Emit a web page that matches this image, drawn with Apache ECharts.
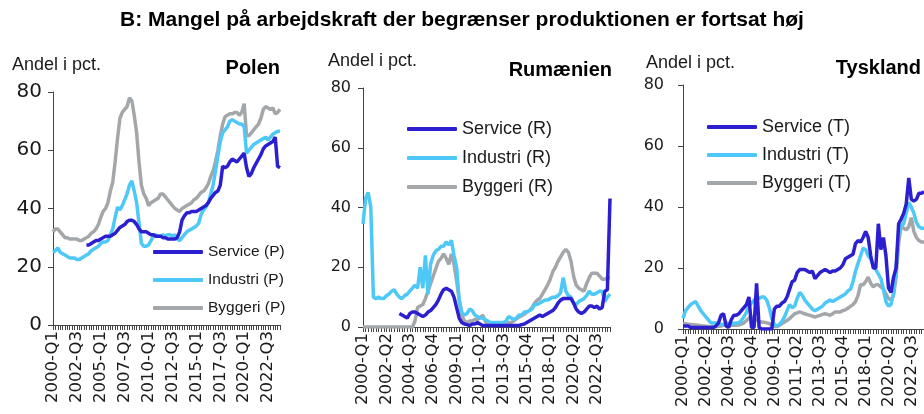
<!DOCTYPE html>
<html>
<head>
<meta charset="utf-8">
<script src="https://cdn.jsdelivr.net/npm/echarts@6/dist/echarts.min.js"></script>
<style>
  html, body { margin: 0; padding: 0; background: #fff; }
  #chart { width: 924px; height: 414px; }
</style>
</head>
<body>
<div id="chart"></div>
<script>
// kvartaler 2000-Q1 .. 2023-Q4
var quarters = [];
for (var y = 2000; y <= 2023; y++) {
    for (var q = 1; q <= 4; q++) {
        quarters.push(y + '-Q' + q);
    }
}

var yTicks = [0, 20, 40, 60, 80];

// Polen
var polenService = [null,null,null,null,null,null,null,null,null,null,
    null,null,null,null,27.5,27.5,28,28.5,29,29,
    29.5,30,30.5,30.5,30.5,31,31.5,32.5,33.5,34,
    34.5,35.5,36,36,35.5,34.5,33,32,32,32,
    31.5,31,31,30.5,30.5,30.5,30,30,29.5,29.5,
    29.5,29.5,30,32,36,37.5,38.5,38.5,39,39,
    39,39.5,40,40.5,41,42,43.5,44.5,45.5,46,
    48,54.5,54,54.5,56,57,56.5,56,57,58,
    59,54,51,52,54,55.5,57,58.5,60.5,61.5,
    62,62.5,63,64.5,54.5,54];
var polenIndustri = [25,25.5,26.5,25,24.5,24,23.5,23,23,23,
    22.5,22.5,23,23.5,24,24.5,25.5,26,26.5,27,
    28,28.5,28.5,29,31,33,37,40.5,39.5,41,
    43,45,48,49.5,46,42,35,28,27,27,
    27.5,29,30.5,31,30.5,30.5,31,30.5,31,31,
    30.5,31,29.5,29,30,31,32,32.5,33,33.5,
    34,35,38,39.5,40.5,42,45,48,53,58,
    63,66,67,68,70,70.5,70,69.5,69,69,
    68,59,60,61,62,62.5,63,63.5,64,64.5,
    63.5,64.5,65.5,66,66.5,66.5];
var polenByggeri = [32,33,33,32,31,30,30,29.5,29.5,29.5,
    29.5,29,29,29.5,30,30.5,31.5,32,33,34.5,
    37,39,40,42,46,49,56,64,71,73,
    74,75,78,77,72,66,56,48,45,43.5,
    41,42,42.5,43,43.5,45,45,44,43,42,
    41,40,39.5,39,40,40.5,41,41.5,42,43,
    43.5,44.5,45.5,46,47,48.5,51,53,56,60,
    65,69,71.5,72,72.5,72.5,73,73,72,73,
    76,65,65,66,67,68,69,71,74,75,
    74.5,74,74.5,72.5,73,74];

// Rumænien
var rumService = [null,null,null,null,null,null,null,null,null,null,
    null,null,null,null,4.5,4,3.5,3,4.5,5,
    5,4.5,4,3.5,4,5,5.5,6.5,7.5,9,
    11,12.5,13,12.5,12,10,6.5,3,1.5,1,
    0.8,0.5,1,1,1.5,1,0.5,0.5,0.5,0.5,
    0.5,0.5,0.5,0.5,0.5,0.5,0.5,0.5,0.5,0.5,
    0.5,0.8,1,1.5,2,2.5,3,3.5,4,3.5,
    4,4.5,5,5.5,6.5,8,9,9.5,9.5,9.5,
    9.5,8,6,5,4.5,5,6,7,7,6.5,
    7,6,6.5,12,12.5,43];
var rumIndustri = [34.5,43,45,40,10,9.5,10,9.5,9.5,10.5,
    11,12,12.5,11,10,9.5,10.5,11,12,13,
    14,13,20,13,24,11,21,24,25.5,26,
    27,27,28.5,27.5,29,24,20,9,5,4,
    4.5,6,5.5,4,3.5,3,3,2.5,2,1.5,
    1.5,1.5,1.5,1.5,1.5,2,3.5,3,2.5,3,
    4,4,5,5,5.5,6,7.5,7.5,8,8.5,
    9,9,9.5,10,10,10.5,11.5,16.5,12,10.5,
    10,8,7.5,8.5,9,9.5,10.5,12,11,11,
    11.5,12,12,8.5,10,11];
var rumByggeri = [0,0,0,0,0,0,0,0,0,0,
    0,0,0,0,0,0,0,0,0,0,
    2,6.5,7,7.5,9.5,12,14.5,17,19.5,22,
    23,24.5,23,21,24.5,21,15.5,9,4,2,
    1.5,2,2,2.5,2.5,3,4,2,1,0.5,
    0.5,1,1,1,1,1.3,1.5,1.5,2,2.8,
    3.3,3.8,4.2,5,5.5,6.5,8,9,9.5,11,
    12.5,14,16,18.5,20,22,23.5,25,26,25,
    22,17,14,13,12.5,12,14.5,16.5,18,18,
    18,17,16,16,16.5,16.5];

// Tyskland
var tyService = [1,1,1,0.5,0.5,0.5,0.5,0.5,0.5,0.5,
    0.5,0.5,0.5,1,2,4.5,5,1,0.5,3,
    4.5,4.5,5,6,7,8,10.5,0.5,0.5,15,
    0.5,0,0,0,0,0,6.5,7.5,7.5,8.5,
    9,10.5,13,15.5,16,18.5,19.5,19.5,19.5,19,
    18.5,19,16.5,17.5,18.5,19,19.5,19,18.5,19,
    19,19.5,20,21,23,23.5,24,24.5,28,29,
    28.5,30,32,30,24,20,20,34.5,26,30,
    24,13.5,12,17,20,34.5,36,38,41,49.5,
    42.5,42,42.5,44.5,44.5,45];
var tyIndustri = [3.5,6,7,8,8.5,9,7.5,6,5,4,
    3,2,2,2,1.5,1.5,1.5,2,1.8,1.5,
    1.8,2,2,2.8,4,5.5,7.5,8.5,9.5,10,
    10,10.5,10.5,9.5,7,3.5,1.5,1,1.5,2.5,
    4,6,8,7,7.5,10,12,11,9.5,8.5,
    7.5,6.5,6,6.5,7,7.5,8.5,9,9.5,9,
    9.5,10,10.5,11,11.5,12.5,13,15.5,19,21.5,
    24,26.5,26,24,23,21,19.5,18,16.5,13,
    9,7.5,8,12,20,31,34,34.5,38,41.5,
    40,38,35,33.5,33,33];
var tyByggeri = [1.8,1.7,1.6,1.5,1.4,1.3,1.2,1.1,1,0.9,
    0.8,0.7,0.7,0.8,0.9,1,1.2,1.2,1.2,1.2,
    1.2,1.2,1.3,1.6,2,2.8,3.5,4,3.5,2.8,
    2.5,2.3,2.2,2,1.8,1.3,0.8,0.8,1.2,1.8,
    2.3,2.8,3.4,4.2,5,5.3,5.6,5.3,5,4.7,
    4.5,4.2,3.9,4.2,4.5,4.8,5,4.8,4.5,5,
    5.6,5.6,5.6,6,6.3,6.8,7.4,8,9,11,
    14.5,14.5,15.5,17,15,13.8,14.5,14.5,13.8,13.2,
    11.5,10,9.5,11,17,28,34,33,32.5,33.5,
    36.5,32,30,29,28.5,28.5];

var colService = '#2c1fcf';
var colIndustri = '#4dc8f7';
var colByggeri = '#a4a7aa';
var txt = '#1a1a1a';
var axisCol = '#444';

var grids = [], xAxes = [], yAxes = [], series = [], legends = [], titles = [];

function addPanel(i, land, suffix, box, lblInt, lgd, sData, iData, bData) {
    grids.push({ left: box.left, width: box.width, top: box.top, bottom: box.bottom, containLabel: false });
    xAxes.push({
        type: 'category', gridIndex: i, data: quarters, boundaryGap: false,
        axisLine: { lineStyle: { color: axisCol, width: 1 } },
        axisTick: { interval: 0, length: 5, lineStyle: { color: axisCol } },
        axisLabel: { interval: lblInt, rotate: 90, color: txt, fontSize: 16.5, fontFamily: 'DejaVu Sans', margin: 6 },
        splitLine: { show: false }
    });
    yAxes.push({
        type: 'value', gridIndex: i, min: yTicks[0], max: yTicks[yTicks.length - 1], interval: 20,
        axisLine: { show: true, lineStyle: { color: axisCol, width: 1 } },
        axisTick: { show: true, length: 5, lineStyle: { color: axisCol } },
        axisLabel: { color: txt, fontSize: box.yFont, fontFamily: 'DejaVu Sans', margin: box.yMargin },
        splitLine: { show: false }
    });
    var names = ['Service (' + suffix + ')', 'Industri (' + suffix + ')', 'Byggeri (' + suffix + ')'];
    var cols = [colService, colIndustri, colByggeri];
    var datas = [sData, iData, bData];
    // Byggeri nederst, service øverst
    for (var k = 2; k >= 0; k--) {
        series.push({
            name: names[k], type: 'line', xAxisIndex: i, yAxisIndex: i,
            data: datas[k], showSymbol: false, symbol: 'none',
            lineStyle: { color: cols[k], width: 3.5 },
            itemStyle: { color: cols[k] }, z: 3 - k
        });
    }
    legends.push({
        data: names, orient: 'vertical', left: lgd.left, top: lgd.top, padding: 0,
        itemWidth: 50, itemHeight: 4, itemGap: lgd.gap, icon: 'roundRect',
        textStyle: { color: txt, fontSize: lgd.font, fontFamily: 'Liberation Sans' },
        selectedMode: false
    });
    titles.push({
        text: 'Andel i pct.', left: box.unitLeft, top: box.unitTop, padding: 0,
        textStyle: { color: txt, fontSize: 18, fontWeight: 'normal', fontFamily: 'Liberation Sans' }
    });
    titles.push({
        text: land, right: box.titleRight, top: box.titleTop, padding: 0,
        textStyle: { color: '#000', fontSize: 20, fontWeight: 'bold', fontFamily: 'Liberation Sans' }
    });
}

titles.push({
    text: 'B: Mangel på arbejdskraft der begrænser produktionen er fortsat høj',
    left: 'center', top: 10, padding: 0,
    textStyle: { color: '#000', fontSize: 21, fontWeight: 'bold', fontFamily: 'Liberation Sans' }
});

addPanel(0, 'Polen', 'P',
    { left: 53, width: 227, top: 92, bottom: 89, unitLeft: 12, unitTop: 56, titleRight: 644, titleTop: 58, yFont: 20, yMargin: 11 },
    9, { left: 153, top: 244, gap: 12, font: 15.5 }, polenService, polenIndustri, polenByggeri);
addPanel(1, 'Rumænien', 'R',
    { left: 363, width: 247, top: 88, bottom: 87, unitLeft: 328, unitTop: 52, titleRight: 312, titleTop: 60, yFont: 16, yMargin: 12 },
    8, { left: 407, top: 120, gap: 11, font: 18 }, rumService, rumIndustri, rumByggeri);
addPanel(2, 'Tyskland', 'T',
    { left: 683, width: 243, top: 85, bottom: 85, unitLeft: 646, unitTop: 54, titleRight: 3, titleTop: 58, yFont: 16, yMargin: 19 },
    8, { left: 707, top: 118, gap: 10, font: 18 }, tyService, tyIndustri, tyByggeri);

var chart = echarts.init(document.getElementById('chart'), null, { renderer: 'canvas' });
chart.setOption({
    animation: false,
    backgroundColor: '#fff',
    title: titles,
    legend: legends,
    grid: grids,
    xAxis: xAxes,
    yAxis: yAxes,
    series: series
});
window.addEventListener('resize', function () {
    chart.resize();
});
</script>
</body>
</html>
